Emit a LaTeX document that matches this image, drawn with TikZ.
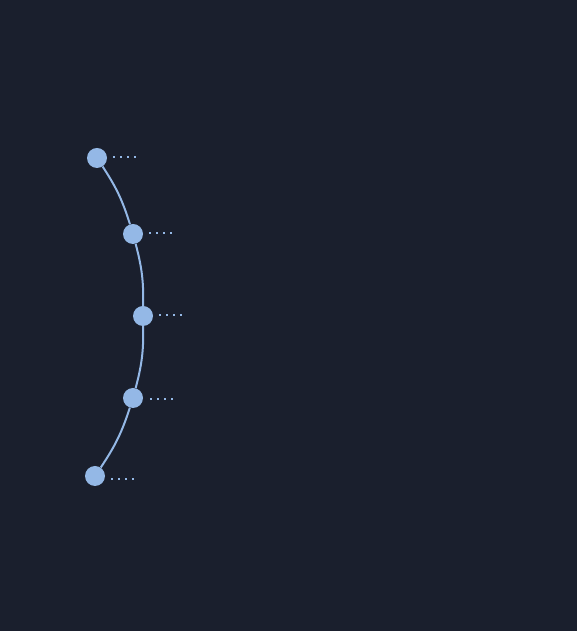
\documentclass[tikz,border=0pt]{standalone}
\usepackage{tikz}
\definecolor{bg}{RGB}{26,31,45}
\definecolor{nodeblue}{RGB}{148,184,230}
\begin{document}
\begin{tikzpicture}[x=1pt,y=1pt,
  dot/.style={circle,fill=nodeblue,inner sep=0pt,minimum size=20pt},
  link/.style={draw=nodeblue,line width=2pt},
  ticks/.style={draw=nodeblue,line width=2pt,dash pattern=on 2pt off 5pt}]
\fill[bg] (0,0) rectangle (577,631);
\useasboundingbox (0,0) rectangle (577,631);
\node[dot] (n1) at (97,473) {};
\node[dot] (n2) at (133,397) {};
\node[dot] (n3) at (143,315) {};
\node[dot] (n4) at (133,233) {};
\node[dot] (n5) at (95,155) {};
\draw[link] (n1) to[bend left=8] (n2);
\draw[link] (n2) to[bend left=8] (n3);
\draw[link] (n3) to[bend left=8] (n4);
\draw[link] (n4) to[bend left=8] (n5);
\draw[ticks] ([xshift=6pt,yshift=1pt]n1.east) -- ++(23,0);
\draw[ticks] ([xshift=6pt,yshift=1pt]n2.east) -- ++(23,0);
\draw[ticks] ([xshift=6pt,yshift=1pt]n3.east) -- ++(23,0);
\draw[ticks] ([xshift=7pt,yshift=-1pt]n4.east) -- ++(23,0);
\draw[ticks] ([xshift=6pt,yshift=-3pt]n5.east) -- ++(23,0);
\end{tikzpicture}
\end{document}
